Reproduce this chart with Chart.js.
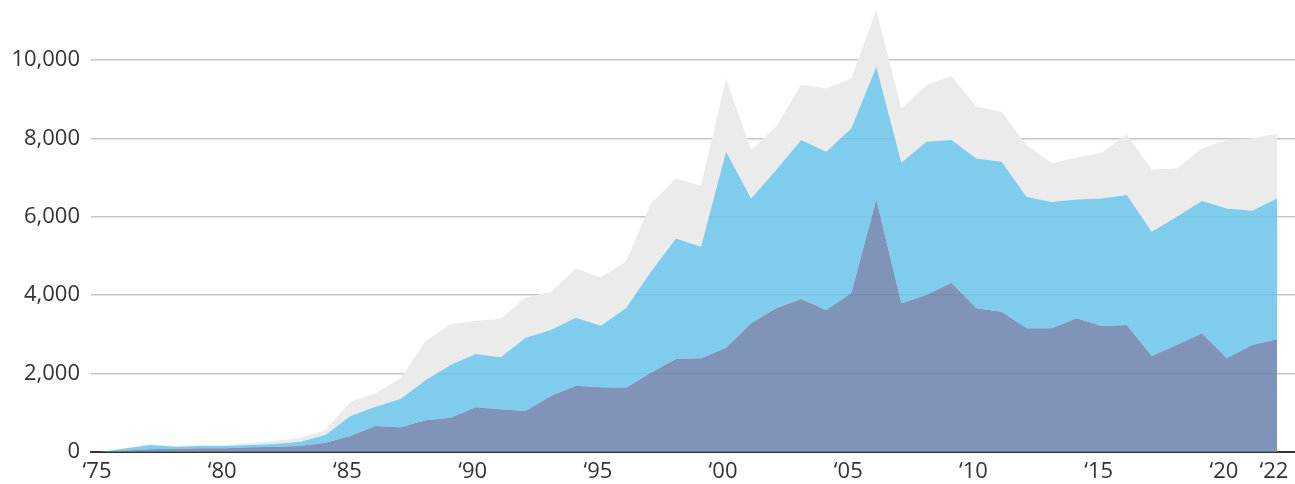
<!DOCTYPE html>
<html>
<head>
<meta charset="utf-8">
<script src="https://cdn.jsdelivr.net/npm/chart.js@4.4.1/dist/chart.umd.min.js"></script>
<style>
  html, body { margin: 0; padding: 0; background: #fff; }
  #wrap { width: 1295px; height: 484px; position: relative; }
</style>
</head>
<body>
<div id="wrap"><canvas id="areaChart"></canvas></div>
<script>
// years 1975 - 2022
const years = [];
for (let y = 1975; y <= 2022; y++) years.push(y);

// upper edge of each band
const baseLevel = [0, 40, 70, 85, 94, 94, 119, 136, 153, 238,
    408, 663, 630, 810, 876, 1139, 1088, 1045, 1428, 1691,
    1649, 1640, 2023, 2372, 2389, 2660, 3282, 3664, 3902, 3621,
    4047, 6443, 3792, 4004, 4318, 3664, 3579, 3155, 3155, 3409,
    3213, 3239, 2448, 2729, 3026, 2389, 2729, 2874];
const midLevel = [0, 90, 178, 136, 153, 153, 178, 204, 263, 433,
    918, 1156, 1350, 1830, 2218, 2499, 2414, 2916, 3111, 3425,
    3221, 3664, 4599, 5449, 5236, 7658, 6469, 7191, 7956, 7658,
    8254, 9826, 7378, 7914, 7956, 7488, 7403, 6512, 6376, 6443,
    6469, 6554, 5619, 6000, 6400, 6214, 6155, 6469];
const topLevel = [0, 94, 195, 153, 178, 178, 230, 288, 357, 561,
    1283, 1496, 1880, 2830, 3256, 3349, 3392, 3944, 4088, 4684,
    4454, 4854, 6342, 6979, 6791, 9529, 7701, 8296, 9376, 9274,
    9529, 11271, 8763, 9359, 9590, 8806, 8678, 7831, 7364, 7514,
    7633, 8100, 7208, 7234, 7744, 7956, 8000, 8109];

const yTicks = [0, 2000, 4000, 6000, 8000, 10000];
const xTicks = [1975, 1980, 1985, 1990, 1995, 2000, 2005, 2010, 2015, 2020, 2022];

function toPoints(values) {
    return values.map((v, i) => ({ x: years[i], y: v }));
}

const ctx = document.getElementById("areaChart").getContext("2d");
new Chart(ctx, {
    type: "line",
    data: {
        datasets: [
            {
                data: toPoints(baseLevel),
                fill: "origin",
                backgroundColor: "rgba(106,129,173,0.85)",
                borderWidth: 0,
                pointRadius: 0
            },
            {
                data: toPoints(midLevel),
                fill: "-1",
                backgroundColor: "rgba(104,195,234,0.85)",
                borderWidth: 0,
                pointRadius: 0
            },
            {
                data: toPoints(topLevel),
                fill: "-1",
                backgroundColor: "rgb(235,235,235)",
                borderWidth: 0,
                pointRadius: 0
            }
        ]
    },
    options: {
        responsive: true,
        maintainAspectRatio: false,
        animation: false,
        layout: { padding: 0 },
        plugins: {
            legend: { display: false },
            tooltip: { enabled: false }
        },
        elements: { line: { tension: 0 } },
        scales: {
            x: {
                type: "linear",
                min: 1974.64,
                max: 2022.72,
                afterBuildTicks: axis => { axis.ticks = xTicks.map(v => ({ value: v })); },
                afterFit: axis => {
                    axis.height = 32;
                    axis.paddingLeft = 0;
                    axis.paddingRight = 0;
                },
                grid: { display: false, drawTicks: false },
                border: { display: true, color: "#333", width: 2 },
                ticks: {
                    autoSkip: false,
                    maxRotation: 0,
                    padding: 7,
                    labelOffset: -3,
                    color: "#333",
                    font: { family: "Open Sans", size: 22 },
                    callback: v => "\u2018" + String(v).slice(2)
                }
            },
            y: {
                min: 0,
                max: 11530,
                afterBuildTicks: axis => { axis.ticks = yTicks.map(v => ({ value: v })); },
                afterFit: axis => {
                    axis.width = 91;
                    axis.paddingTop = 0;
                    axis.paddingBottom = 0;
                },
                grid: { color: "#c6c6c6", lineWidth: 1.5, drawTicks: false },
                border: { display: false },
                ticks: {
                    padding: 11,
                    color: "#333",
                    font: { family: "Open Sans", size: 22 },
                    callback: v => v.toLocaleString("en-US")
                }
            }
        }
    }
});
</script>
</body>
</html>
